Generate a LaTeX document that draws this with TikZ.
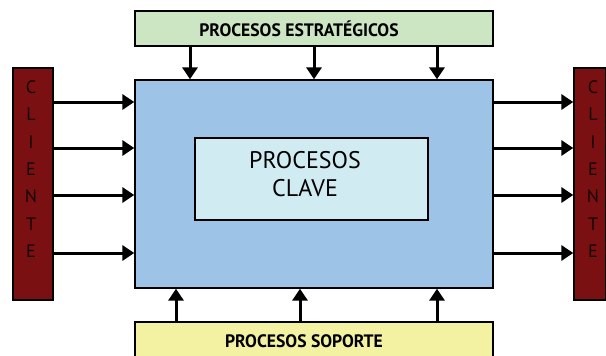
\documentclass[tikz,border=0pt]{standalone}
\usepackage{fontspec}
\setmainfont{PT Sans}
\usetikzlibrary{arrows.meta,positioning}
\definecolor{estratA}{HTML}{CCE5C2}
\definecolor{claveA}{HTML}{9DC3E7}
\definecolor{claveB}{HTML}{D0ECF2}
\definecolor{soporteA}{HTML}{F3F1A2}
\definecolor{clienteA}{HTML}{7A1012}
\definecolor{clienteT}{HTML}{140303}

\begin{document}
\begin{tikzpicture}[x=1pt,y=-1pt,
box/.style={draw=black,fill=#1,line width=1.3pt,inner sep=0pt},
arrow/.style={-{Triangle[length=12pt,width=15pt]},line width=3pt,draw=black}]
\useasboundingbox (0,0) rectangle (606,356);
\clip (0,0) rectangle (606,356);
\node[box=estratA,minimum width=358pt,minimum height=35pt] (estrat) at (314,28.5) {};
\node[font=\fontsize{18}{20}\selectfont\bfseries,xscale=.98] (estratT) at (299,28.5) {PROCESOS ESTRATÉGICOS};
\node[box=claveA,minimum width=358pt,minimum height=208pt] (main) at (314,184) {};
\node[box=claveB,minimum width=233pt,minimum height=82pt] (clave) at (311.5,179) {};
\node[font=\fontsize{24}{28}\selectfont,align=center] (claveT) at (305,174) {PROCESOS\\CLAVE};
\node[box=soporteA,minimum width=358pt,minimum height=44pt] (soporte) at (314,344) {};
\node[font=\fontsize{18}{20}\selectfont\bfseries,xscale=.98] (soporteT) at (304,341) {PROCESOS SOPORTE};
\node[box=clienteA,minimum width=40pt,minimum height=232pt] (cliL) at (33,184) {};
\node[box=clienteA,minimum width=32pt,minimum height=232pt] (cliR) at (590,184) {};
\node[font=\fontsize{18}{27.4}\selectfont,align=center,text=clienteT] (cliLT) at (31,169) {C\\L\\I\\E\\N\\T\\E};
\node[font=\fontsize{18}{27.4}\selectfont,align=center,text=clienteT] (cliRT) at (593,169) {C\\L\\I\\E\\N\\T\\E};
% clientes
\foreach \y in {102,148,195,253}{
 \draw[arrow] (cliL.east |- 0,\y) -- (main.west |- 0,\y);
 \draw[arrow] (main.east |- 0,\y) -- (cliR.west |- 0,\y);
}
% estrategicos y soporte
\foreach \x in {190,314,437}
 \draw[arrow] (estrat.south -| \x,0) -- (main.north -| \x,0);
\foreach \x in {176,300,437}
 \draw[arrow] (soporte.north -| \x,0) -- (main.south -| \x,0);
\end{tikzpicture}
\end{document}
